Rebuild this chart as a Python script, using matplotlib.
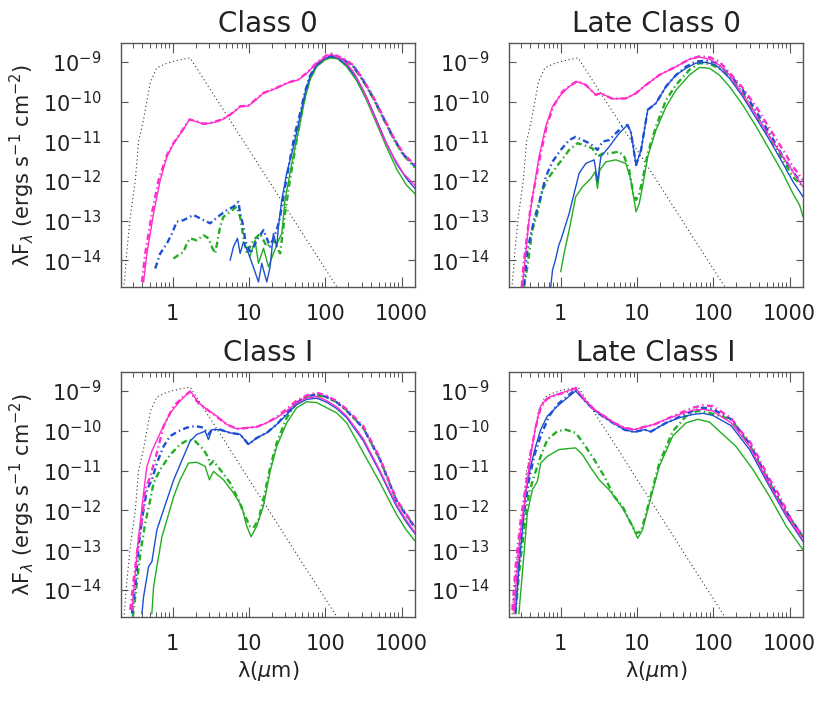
import numpy as np
import matplotlib
matplotlib.use('Agg')
import matplotlib.pyplot as plt
from matplotlib.ticker import FixedLocator, LogFormatterMathtext, NullLocator, LogLocator, FixedFormatter

###############################################################################
# Values: wavelength (micron) and log10(lambda F_lambda)

# stellar photosphere (same in every panel)
star_x = [0.22, 0.234, 0.25, 0.278, 0.307, 0.323, 0.357, 0.415, 0.51, 0.62, 0.8, 1.0, 1.3, 1.69,
          2.3, 3.0, 5.0, 10, 20, 50, 100, 160]
star_y = [-15.0, -14.5, -13.8, -12.9, -12.3, -12.0, -11.0, -10.45, -9.5, -9.15, -9.05, -8.99, -8.94, -8.9,
          -9.3, -9.65, -10.31, -11.22, -12.12, -13.32, -14.22, -14.83]

# Class 0
c0_ms_x = [0.415, 0.459, 0.561, 0.686, 0.839, 1.03, 1.32, 1.66, 2.07, 2.53, 3.42, 4.4, 5.66, 7.65, 9.84,
           15.5, 23.1, 31.2, 44.4, 57, 77, 104, 121, 172, 233, 315, 425, 574, 779, 1055, 1493]
c0_ms_y = [-14.55, -13.83, -12.82, -11.98, -11.39, -11.05, -10.76, -10.45, -10.51, -10.57, -10.53, -10.46,
           -10.34, -10.13, -10.11, -9.79, -9.66, -9.54, -9.45, -9.29, -9.03, -8.85, -8.81, -8.95, -9.24,
           -9.71, -10.30, -10.89, -11.39, -11.81, -12.11]
c0_md_x = [0.395, 0.436, 0.533, 0.652, 0.839, 1.03, 1.32, 1.66, 2.07, 2.53, 3.42, 4.4, 5.66, 7.65, 9.84,
           15.5, 23.1, 31.2, 44.4, 57, 77, 104, 121, 172, 233, 315, 425, 574, 779, 1055, 1493]
c0_md_y = [-14.55, -13.83, -12.82, -11.98, -11.35, -11.04, -10.74, -10.45, -10.5, -10.56, -10.52, -10.45,
           -10.33, -10.12, -10.1, -9.78, -9.65, -9.53, -9.44, -9.28, -9.02, -8.83, -8.79, -8.91, -9.08,
           -9.45, -9.88, -10.38, -10.89, -11.31, -11.6]
c0_bs_x = [5.66, 6.26, 7.06, 7.65, 8.46, 9.84, 11.4, 13.3, 14.7, 17.1, 18.9, 20.9, 23.1, 24.3, 26.9,
           31.2, 38.2, 46.7, 54.2, 63, 77, 99, 115, 141, 191, 257, 347, 469, 633, 855, 1160, 1493]
c0_bs_y = [-14.0, -13.66, -13.45, -13.83, -13.54, -13.83, -14.17, -14.55, -14.08, -14.55, -14.17, -13.33,
           -13.66, -13.16, -12.48, -11.81, -11.14, -10.38, -9.79, -9.37, -9.08, -8.91, -8.87, -8.88, -9.08,
           -9.41, -9.88, -10.46, -11.05, -11.56, -11.94, -12.19]
c0_bd_x = [0.59, 0.686, 0.84, 0.975, 1.13, 1.39, 1.87, 2.53, 3.09, 4.19, 5.12, 6.25, 7.27, 7.65, 8.46,
           8.9, 10.5, 12.6, 15.5, 18.9, 23.1, 25.6, 29.7, 34.4, 40, 46.7, 54.2, 63, 77, 99, 121, 172,
           233, 315, 425, 574, 779, 1055, 1493]
c0_bd_y = [-14.21, -13.83, -13.58, -13.33, -13.03, -12.99, -12.86, -12.99, -13.07, -12.86, -12.74,
           -12.65, -12.53, -12.82, -13.16, -13.5, -13.83, -13.5, -13.24, -13.66, -13.24, -12.9, -12.15,
           -11.47, -10.8, -10.3, -9.75, -9.35, -9.07, -8.9, -8.85, -8.94, -9.1, -9.47, -9.9, -10.4,
           -10.91, -11.33, -11.63]
c0_gs_x = [10.3, 12.0, 13.3, 15.5, 18.0, 20.9, 24.3, 26.9, 29.7, 34.4, 40.2, 46.7, 54.2, 63, 77, 99,
           115, 141, 191, 257, 347, 469, 633, 855, 1160, 1493]
c0_gs_y = [-13.9, -13.5, -14.08, -13.7, -14.17, -13.83, -13.5, -13.33, -12.48, -11.81, -11.14, -10.55,
           -9.92, -9.45, -9.12, -8.95, -8.9, -8.9, -9.12, -9.47, -9.96, -10.55, -11.14, -11.69, -12.11,
           -12.32]
c0_gd_x = [1.02, 1.19, 1.39, 1.53, 1.69, 2.07, 2.53, 2.95, 3.25, 3.6, 4.18, 4.6, 5.66, 6.9, 7.65, 8.3,
           9.3, 11.4, 14.0, 17.1, 20.9, 25.6, 29.7, 34.4, 40.2, 46.7, 54.2, 63, 77, 99, 121, 172, 233,
           315, 425, 574, 779, 1055, 1493]
c0_gd_y = [-13.96, -13.87, -13.79, -13.58, -13.45, -13.5, -13.37, -13.45, -13.66, -13.83, -13.16,
           -12.91, -12.78, -12.65, -12.91, -13.33, -13.83, -13.5, -13.33, -13.66, -13.5, -13.83, -12.82,
           -11.98, -11.2, -10.5, -9.88, -9.42, -9.1, -8.93, -8.88, -8.95, -9.12, -9.49, -9.92, -10.42,
           -10.93, -11.35, -11.66]

# Late Class 0
lc0_ms_x = [0.313, 0.347, 0.384, 0.447, 0.519, 0.635, 0.777, 1.0, 1.29, 1.66, 2.13, 2.88, 3.36, 4.77,
            7.15, 9.68, 13.1, 19.6, 32.4, 48.6, 65.8, 89, 120, 163, 244, 365, 547, 818, 1107, 1500]
lc0_ms_y = [-14.67, -13.83, -12.99, -12.15, -11.39, -10.63, -10.13, -9.83, -9.62, -9.5, -9.58, -9.83,
            -9.79, -9.93, -9.92, -9.79, -9.58, -9.33, -9.12, -8.93, -8.88, -8.93, -9.08, -9.33, -9.83,
            -10.34, -10.89, -11.39, -11.77, -12.15]
lc0_md_x = [0.308, 0.33, 0.365, 0.403, 0.47, 0.546, 0.668, 0.817, 1.05, 1.35, 1.66, 2.13, 2.88, 3.36,
            4.77, 7.13, 9.68, 13.1, 19.6, 32.4, 48.6, 65.8, 89, 120, 163, 244, 365, 547, 818, 1107, 1500]
lc0_md_y = [-14.67, -14.0, -13.33, -12.65, -11.98, -11.31, -10.55, -10.09, -9.75, -9.58, -9.48, -9.58,
            -9.83, -9.79, -9.93, -9.92, -9.79, -9.58, -9.33, -9.12, -8.93, -8.86, -8.88, -8.99, -9.27,
            -9.66, -10.13, -10.68, -11.22, -11.64, -11.98]
lc0_bs_x = [0.74, 0.78, 0.85, 0.95, 1.0, 1.29, 1.74, 2.13, 2.74, 3.03, 3.36, 4.31, 5.83, 7.5, 8.3, 9.7,
            11.3, 13.8, 17.7, 24, 32.4, 43.8, 59, 80, 108, 163, 244, 365, 547, 818, 1107, 1500]
lc0_bs_y = [-14.67, -14.25, -14.0, -13.6, -13.5, -12.82, -11.81, -11.56, -11.47, -12.02, -11.39, -11.14,
            -10.8, -10.59, -10.76, -11.6, -11.22, -10.21, -10.04, -9.62, -9.33, -9.16, -9.03, -9.01,
            -9.08, -9.41, -9.88, -10.42, -10.97, -11.56, -12.02, -12.4]
lc0_bd_x = [0.33, 0.365, 0.447, 0.546, 0.635, 0.777, 1.0, 1.29, 1.57, 1.93, 2.36, 2.74, 3.03, 3.53,
            4.31, 5.28, 6.46, 7.5, 8.3, 9.7, 11.3, 13.8, 17.7, 24, 32.4, 43.8, 59, 80, 108, 163, 244,
            365, 547, 818, 1107, 1500]
lc0_bd_y = [-14.63, -13.75, -12.99, -12.4, -11.9, -11.52, -11.22, -10.97, -10.89, -10.97, -11.05,
            -11.14, -11.22, -11.01, -10.97, -10.8, -10.63, -10.59, -10.76, -11.6, -11.22, -10.21, -10.04,
            -9.62, -9.33, -9.12, -8.99, -8.97, -9.02, -9.31, -9.71, -10.25, -10.8, -11.39, -11.77, -12.1]
lc0_gs_x = [1.0, 1.106, 1.29, 1.57, 1.93, 2.48, 2.83, 3.03, 3.25, 3.9, 5.28, 7.13, 8.3, 9.7, 10.7,
            11.8, 13.8, 17.7, 24, 32.4, 48.6, 65.8, 89, 120, 163, 244, 365, 547, 818, 1107, 1350, 1500]
lc0_gs_y = [-14.29, -13.83, -13.24, -12.4, -12.15, -11.94, -11.77, -12.19, -11.73, -11.52, -11.47,
            -11.56, -11.98, -12.78, -12.57, -12.15, -11.39, -10.72, -10.13, -9.71, -9.33, -9.14, -9.16,
            -9.33, -9.62, -10.09, -10.63, -11.22, -11.81, -12.32, -12.61, -12.9]
lc0_gd_x = [0.33, 0.365, 0.424, 0.494, 0.574, 0.703, 0.95, 1.29, 1.66, 2.02, 2.6, 3.03, 3.53, 4.31,
            5.83, 6.8, 7.9, 8.9, 9.7, 10.7, 11.8, 13.8, 17.7, 24, 32.4, 48.6, 65.8, 89, 120, 163, 244,
            365, 547, 818, 1107, 1500]
lc0_gd_y = [-14.67, -14.17, -13.24, -12.82, -12.23, -11.9, -11.56, -11.22, -11.05, -11.1, -11.18,
            -11.39, -11.31, -11.31, -11.26, -11.39, -11.73, -12.32, -12.48, -12.32, -11.98, -11.31,
            -10.63, -9.96, -9.58, -9.2, -9.03, -9.05, -9.16, -9.35, -9.79, -10.34, -10.89, -11.47,
            -11.9, -12.15]

# Class I
ci_ms_x = [0.292, 0.323, 0.357, 0.415, 0.459, 0.533, 0.686, 0.927, 1.25, 1.69, 2.18, 2.8, 3.79, 5.12,
           6.92, 9.35, 12.6, 17.1, 23.1, 31.2, 42.2, 57, 77, 104, 141, 191, 315, 520, 859, 1160, 1493]
ci_ms_y = [-14.5, -13.58, -12.66, -11.56, -10.89, -10.51, -10.05, -9.55, -9.25, -9.0, -9.29, -9.46,
           -9.63, -9.84, -9.95, -9.92, -9.9, -9.8, -9.67, -9.5, -9.29, -9.18, -9.14, -9.24, -9.4, -9.63,
           -10.2, -11.0, -11.86, -12.25, -12.55]
ci_md_x = [0.278, 0.307, 0.357, 0.395, 0.436, 0.508, 0.62, 0.759, 1.03, 1.39, 1.69, 2.18, 2.8, 3.79,
           5.12, 6.92, 9.35, 12.6, 17.1, 23.1, 31.2, 42.2, 57, 77, 104, 141, 191, 315, 520, 859, 1160,
           1493]
ci_md_y = [-14.5, -13.75, -12.74, -12.24, -11.48, -11.14, -10.55, -9.88, -9.38, -9.13, -9.02, -9.31,
           -9.46, -9.65, -9.84, -9.95, -9.93, -9.9, -9.8, -9.65, -9.45, -9.24, -9.11, -9.04, -9.12,
           -9.25, -9.46, -9.88, -10.68, -11.73, -12.1, -12.4]
ci_bs_x = [0.395, 0.415, 0.483, 0.533, 0.62, 0.759, 1.03, 1.39, 1.69, 2.07, 2.66, 2.94, 3.25, 4.18,
           5.66, 7.65, 9.84, 12.6, 17.1, 23.1, 31.2, 42.2, 57, 77, 104, 141, 191, 315, 520, 859, 1160,
           1493]
ci_bs_y = [-14.59, -14.17, -13.41, -13.29, -12.49, -11.98, -11.23, -10.64, -10.26, -10.09, -10.01,
           -10.22, -9.97, -9.97, -10.05, -10.09, -10.34, -10.18, -10.05, -9.84, -9.59, -9.34, -9.21,
           -9.18, -9.28, -9.44, -9.67, -10.25, -11.04, -11.9, -12.3, -12.58]
ci_bd_x = [0.292, 0.323, 0.357, 0.395, 0.459, 0.533, 0.62, 0.759, 0.927, 1.19, 1.53, 1.97, 2.53, 2.94,
           3.25, 4.18, 5.66, 7.65, 9.84, 12.6, 17.1, 23.1, 31.2, 42.2, 57, 77, 104, 141, 191, 315, 520,
           859, 1160, 1493]
ci_bd_y = [-14.59, -13.92, -12.91, -12.24, -11.48, -11.23, -10.81, -10.39, -10.13, -10.01, -9.92,
           -9.88, -9.92, -10.09, -9.97, -9.97, -10.05, -10.09, -10.34, -10.18, -10.05, -9.84, -9.56,
           -9.29, -9.14, -9.08, -9.15, -9.28, -9.5, -9.93, -10.72, -11.76, -12.13, -12.43]
ci_gs_x = [0.533, 0.561, 0.62, 0.722, 0.839, 1.03, 1.25, 1.61, 2.07, 2.66, 3.03, 3.42, 4.62, 6.25,
           8.04, 9.35, 10.66, 12.6, 15.4, 18.9, 23.1, 31.2, 42.2, 57, 77, 104, 141, 191, 315, 520, 859,
           1160, 1493]
ci_gs_y = [-14.59, -13.92, -13.41, -12.66, -12.24, -11.65, -11.23, -10.81, -10.79, -10.89, -11.23,
           -11.02, -11.23, -11.56, -11.9, -12.4, -12.66, -12.4, -11.9, -11.02, -10.39, -9.8, -9.42,
           -9.27, -9.29, -9.42, -9.55, -9.8, -10.55, -11.3, -12.1, -12.5, -12.76]
ci_gd_x = [0.3, 0.339, 0.376, 0.436, 0.508, 0.561, 0.686, 0.927, 1.25, 1.61, 1.97, 2.53, 2.94, 3.09,
           3.42, 4.18, 5.66, 7.27, 8.9, 10.3, 11.4, 13.3, 15.4, 18.9, 23.1, 31.2, 42.2, 57, 77, 104, 141,
           191, 315, 520, 859, 1160, 1493]
ci_gd_y = [-14.67, -13.83, -13.08, -12.32, -11.73, -11.31, -10.97, -10.6, -10.34, -10.22, -10.26,
           -10.47, -10.68, -10.85, -10.76, -10.97, -11.31, -11.73, -12.15, -12.4, -12.44, -12.24,
           -11.73, -10.93, -10.3, -9.67, -9.29, -9.14, -9.1, -9.16, -9.28, -9.48, -9.93, -10.72,
           -11.75, -12.12, -12.42]

# Late Class I
lci_ms_x = [0.244, 0.27, 0.298, 0.33, 0.365, 0.424, 0.469, 0.546, 0.668, 0.904, 1.22, 1.57, 2.03, 2.74,
            3.71, 5.02, 6.8, 9.2, 12.5, 16.8, 24, 35.9, 53.7, 72.7, 98, 171, 299, 520, 905, 1500]
lci_ms_y = [-14.59, -13.41, -12.49, -11.9, -11.23, -10.39, -9.88, -9.38, -9.17, -9.08, -9.0, -8.92,
            -9.21, -9.46, -9.63, -9.8, -9.92, -9.97, -9.9, -9.84, -9.71, -9.59, -9.48, -9.46, -9.5,
            -9.8, -10.39, -11.27, -12.11, -12.74]
lci_md_x = [0.232, 0.256, 0.298, 0.347, 0.403, 0.469, 0.546, 0.668, 0.904, 1.22, 1.57, 2.03, 2.74,
            3.71, 5.02, 6.8, 9.2, 12.5, 16.8, 24, 35.9, 53.7, 72.7, 98, 171, 220, 299, 384, 520, 703,
            905, 1164, 1500]
lci_md_y = [-14.5, -13.41, -12.24, -11.39, -10.55, -9.92, -9.42, -9.19, -9.09, -9.02, -8.93, -9.21,
            -9.46, -9.63, -9.8, -9.92, -9.97, -9.9, -9.84, -9.71, -9.56, -9.42, -9.36, -9.38, -9.68,
            -9.97, -10.26, -10.64, -11.14, -11.56, -11.98, -12.4, -12.61]
lci_bs_x = [0.256, 0.284, 0.314, 0.347, 0.403, 0.469, 0.546, 0.668, 0.904, 1.22, 1.57, 2.03, 2.74,
            3.71, 5.02, 6.8, 9.2, 12.5, 15.2, 24, 35.9, 53.7, 72.7, 98, 171, 299, 520, 905, 1500]
lci_bs_y = [-14.59, -13.41, -12.49, -11.56, -10.89, -10.39, -9.97, -9.63, -9.38, -9.17, -9.0, -9.23,
            -9.48, -9.66, -9.82, -9.97, -10.03, -9.97, -10.02, -9.8, -9.67, -9.59, -9.56, -9.61, -9.87,
            -10.47, -11.33, -12.15, -12.78]
lci_bd_x = [0.244, 0.284, 0.33, 0.384, 0.447, 0.546, 0.703, 0.904, 1.22, 1.57, 2.03, 2.74, 3.71, 5.02,
            6.8, 9.2, 12.5, 15.2, 24, 35.9, 53.7, 72.7, 98, 171, 299, 520, 905, 1500]
lci_bd_y = [-14.5, -13.08, -12.07, -11.23, -10.64, -10.13, -9.63, -9.34, -9.13, -8.96, -9.23, -9.48,
            -9.66, -9.82, -9.97, -10.03, -9.97, -10.02, -9.8, -9.65, -9.5, -9.42, -9.45, -9.71, -10.32,
            -11.21, -12.03, -12.67]
lci_gs_x = [0.283, 0.298, 0.33, 0.365, 0.424, 0.494, 0.546, 0.668, 0.95, 1.35, 1.57, 1.93, 2.48, 3.19,
            4.31, 6.46, 8.74, 10.2, 11.8, 14.5, 19.6, 29.4, 44, 62.6, 89, 120, 198, 330, 547, 905, 1500]
lci_gs_y = [-14.59, -14.08, -13.08, -12.07, -11.48, -11.27, -10.81, -10.64, -10.47, -10.44, -10.43,
            -10.6, -10.93, -11.23, -11.48, -11.94, -12.4, -12.7, -12.49, -11.82, -10.89, -10.13, -9.8,
            -9.71, -9.78, -10.01, -10.39, -10.97, -11.65, -12.4, -12.99]
lci_gd_x = [0.256, 0.284, 0.33, 0.384, 0.447, 0.546, 0.668, 0.904, 1.16, 1.35, 1.57, 2.03, 2.74, 3.71,
            5.02, 6.46, 7.9, 9.7, 11.3, 14.5, 19.6, 29.4, 44, 62.6, 89, 171, 299, 520, 905, 1500]
lci_gd_y = [-14.59, -13.58, -12.49, -11.56, -11.14, -10.64, -10.22, -10.01, -9.97, -10.01, -10.05,
            -10.34, -10.72, -11.14, -11.65, -11.9, -12.24, -12.57, -12.53, -11.77, -10.81, -10.01,
            -9.63, -9.5, -9.55, -9.71, -10.35, -11.23, -12.07, -12.66]

titles = ['Class 0', 'Late Class 0', 'Class I', 'Late Class I']
x_ticks = [1, 10, 100, 1000]
x_ticklabels = ['1', '10', '100', '1000']
y_ticks = [1e-14, 1e-13, 1e-12, 1e-11, 1e-10, 1e-9]

###############################################################################
# Plot

magenta = '#ff2dcc'
blue = '#1d4fd3'
green = '#22ad22'
solid = dict(lw=1.0, ls='-')
dashdot = dict(lw=1.7, ls=(0, (2.6, 1.4, 0.6, 1.4)))

panels = [
    [(c0_gs_x, c0_gs_y, green, solid), (c0_gd_x, c0_gd_y, green, dashdot),
     (c0_bs_x, c0_bs_y, blue, solid), (c0_bd_x, c0_bd_y, blue, dashdot),
     (c0_ms_x, c0_ms_y, magenta, solid), (c0_md_x, c0_md_y, magenta, dashdot)],
    [(lc0_gs_x, lc0_gs_y, green, solid), (lc0_gd_x, lc0_gd_y, green, dashdot),
     (lc0_bs_x, lc0_bs_y, blue, solid), (lc0_bd_x, lc0_bd_y, blue, dashdot),
     (lc0_ms_x, lc0_ms_y, magenta, solid), (lc0_md_x, lc0_md_y, magenta, dashdot)],
    [(ci_gs_x, ci_gs_y, green, solid), (ci_gd_x, ci_gd_y, green, dashdot),
     (ci_bs_x, ci_bs_y, blue, solid), (ci_bd_x, ci_bd_y, blue, dashdot),
     (ci_ms_x, ci_ms_y, magenta, solid), (ci_md_x, ci_md_y, magenta, dashdot)],
    [(lci_gs_x, lci_gs_y, green, solid), (lci_gd_x, lci_gd_y, green, dashdot),
     (lci_bs_x, lci_bs_y, blue, solid), (lci_bd_x, lci_bd_y, blue, dashdot),
     (lci_ms_x, lci_ms_y, magenta, solid), (lci_md_x, lci_md_y, magenta, dashdot)],
]

# axes boxes in figure fractions (left, bottom, width, height)
boxes = [(0.1458, 0.5917, 0.3542, 0.3471), (0.6133, 0.5917, 0.3542, 0.3471),
         (0.1458, 0.1223, 0.3542, 0.3485), (0.6133, 0.1223, 0.3542, 0.3485)]

fig = plt.figure(figsize=(8.3, 7.03), dpi=100)

for i, (box, curves, title) in enumerate(zip(boxes, panels, titles)):
    ax = fig.add_axes(box)
    ax.plot(star_x, 10 ** np.array(star_y), color='#333333', lw=0.8, ls=(0, (1, 2.5)))
    for x, y, col, style in curves:
        ax.plot(x, 10 ** np.array(y), color=col, **style)

    ax.set_xscale('log')
    ax.set_yscale('log')
    ax.set_xlim(0.21, 1500)
    ax.set_ylim(2.1e-15, 3e-9)

    ax.xaxis.set_major_locator(FixedLocator(x_ticks))
    ax.xaxis.set_major_formatter(FixedFormatter(x_ticklabels))
    ax.xaxis.set_minor_locator(LogLocator(base=10, subs=np.arange(2, 10)))
    ax.yaxis.set_major_locator(FixedLocator(y_ticks))
    ax.yaxis.set_major_formatter(LogFormatterMathtext())
    ax.yaxis.set_minor_locator(NullLocator())

    ax.tick_params(which='both', direction='in', top=True, right=True, colors='#555555',
                   labelcolor='#222222')
    ax.tick_params(axis='x', which='major', length=7, width=0.8, labelsize=15, pad=12)
    ax.tick_params(axis='x', which='minor', length=3.5, width=0.7)
    ax.tick_params(axis='y', which='major', length=5, width=0.8, labelsize=15, pad=14)
    for sp in ax.spines.values():
        sp.set_color('#555555')
        sp.set_linewidth(1.0)

    ax.set_title(title, fontsize=20, pad=8, color='#222222')
    if i % 2 == 0:
        ax.set_ylabel('λF$_λ$ (ergs s$^{-1}$ cm$^{-2}$)', fontsize=15, color='#222222')
        ax.yaxis.set_label_coords(-0.285, 0.5)
    if i >= 2:
        ax.set_xlabel('λ($\\mu$m)', fontsize=15, color='#222222')
        ax.xaxis.set_label_coords(0.5, -0.17)

fig.savefig('out.png', dpi=100)
